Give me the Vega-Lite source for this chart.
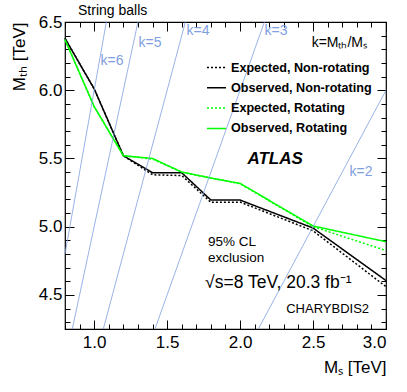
{
  "$schema": "https://vega.github.io/schema/vega-lite/v6.json",
  "width": 321,
  "height": 307,
  "autosize": "none",
  "padding": {"left": 65, "top": 22, "right": 21, "bottom": 63},
  "background": "white",
  "view": {"stroke": "black", "strokeWidth": 1.2},
  "config": {
    "font": "Liberation Sans",
    "axis": {"grid": false, "domain": false, "labelFont": "Liberation Sans", "titleFont": "Liberation Sans", "tickColor": "black", "labelColor": "black", "titleColor": "black"}
  },
  "datasets": {
    "klines": [
      {"k": "2", "ms": 2.125, "mth": 4.25}, {"k": "2", "ms": 3.0, "mth": 6.0},
      {"k": "3", "ms": 1.4167, "mth": 4.25}, {"k": "3", "ms": 2.1667, "mth": 6.5},
      {"k": "4", "ms": 1.0625, "mth": 4.25}, {"k": "4", "ms": 1.625, "mth": 6.5},
      {"k": "5", "ms": 0.85, "mth": 4.25}, {"k": "5", "ms": 1.3, "mth": 6.5},
      {"k": "6", "ms": 0.8, "mth": 4.8}, {"k": "6", "ms": 1.0833, "mth": 6.5}
    ],
    "klabels": [
      {"label": "k=6", "ms": 1.122, "mth": 6.214},
      {"label": "k=5", "ms": 1.383, "mth": 6.346},
      {"label": "k=4", "ms": 1.712, "mth": 6.434},
      {"label": "k=3", "ms": 2.246, "mth": 6.434},
      {"label": "k=2", "ms": 2.829, "mth": 5.40}
    ],
    "curves": [
      {"series": "Expected, Non-rotating", "ms": 0.8, "mth": 6.38},
      {"series": "Expected, Non-rotating", "ms": 1.0, "mth": 6.01},
      {"series": "Expected, Non-rotating", "ms": 1.2, "mth": 5.52},
      {"series": "Expected, Non-rotating", "ms": 1.4, "mth": 5.38},
      {"series": "Expected, Non-rotating", "ms": 1.6, "mth": 5.375},
      {"series": "Expected, Non-rotating", "ms": 1.8, "mth": 5.178},
      {"series": "Expected, Non-rotating", "ms": 2.0, "mth": 5.18},
      {"series": "Expected, Non-rotating", "ms": 2.5, "mth": 4.97},
      {"series": "Expected, Non-rotating", "ms": 3.0, "mth": 4.56},
      {"series": "Observed, Non-rotating", "ms": 0.8, "mth": 6.38},
      {"series": "Observed, Non-rotating", "ms": 1.0, "mth": 6.01},
      {"series": "Observed, Non-rotating", "ms": 1.2, "mth": 5.52},
      {"series": "Observed, Non-rotating", "ms": 1.4, "mth": 5.395},
      {"series": "Observed, Non-rotating", "ms": 1.6, "mth": 5.395},
      {"series": "Observed, Non-rotating", "ms": 1.8, "mth": 5.195},
      {"series": "Observed, Non-rotating", "ms": 2.0, "mth": 5.195},
      {"series": "Observed, Non-rotating", "ms": 2.5, "mth": 4.99},
      {"series": "Observed, Non-rotating", "ms": 3.0, "mth": 4.605},
      {"series": "Expected, Rotating", "ms": 0.8, "mth": 6.37},
      {"series": "Expected, Rotating", "ms": 1.0, "mth": 5.88},
      {"series": "Expected, Rotating", "ms": 1.2, "mth": 5.52},
      {"series": "Expected, Rotating", "ms": 1.4, "mth": 5.495},
      {"series": "Expected, Rotating", "ms": 1.6, "mth": 5.40},
      {"series": "Expected, Rotating", "ms": 1.8, "mth": 5.355},
      {"series": "Expected, Rotating", "ms": 2.0, "mth": 5.315},
      {"series": "Expected, Rotating", "ms": 2.5, "mth": 5.0},
      {"series": "Expected, Rotating", "ms": 3.0, "mth": 4.825},
      {"series": "Observed, Rotating", "ms": 0.8, "mth": 6.37},
      {"series": "Observed, Rotating", "ms": 1.0, "mth": 5.88},
      {"series": "Observed, Rotating", "ms": 1.2, "mth": 5.52},
      {"series": "Observed, Rotating", "ms": 1.4, "mth": 5.5},
      {"series": "Observed, Rotating", "ms": 1.6, "mth": 5.40},
      {"series": "Observed, Rotating", "ms": 1.8, "mth": 5.357},
      {"series": "Observed, Rotating", "ms": 2.0, "mth": 5.317},
      {"series": "Observed, Rotating", "ms": 2.5, "mth": 5.005},
      {"series": "Observed, Rotating", "ms": 3.0, "mth": 4.89}
    ],
    "atlas": [{"text": "ATLAS", "ms": 2.24, "mth": 5.496}],
    "cl": [{"text": "95% CL\nexclusion", "ms": 1.78, "mth": 4.887}],
    "lumi": [{"text": "√s=8 TeV, 20.3 fb⁻¹", "ms": 1.76, "mth": 4.587}],
    "gen": [{"text": "CHARYBDIS2", "ms": 2.6, "mth": 4.4}],
    "kdef": [{"text": "k=Mₜₕ/Mₛ", "ms": 2.87, "mth": 6.346}],
    "head": [{"text": "String balls", "ms": 0.889, "mth": 6.553}]
  },
  "resolve": {"axis": {"x": "independent", "y": "independent"}},
  "layer": [
    {
      "data": {"name": "curves"},
      "mark": {"type": "line", "strokeWidth": 1.5},
      "encoding": {
        "x": {"field": "ms", "type": "quantitative", "scale": {"domain": [0.8, 3.0], "nice": false, "zero": false},
          "axis": {"orient": "bottom", "ticks": false, "values": [1.0, 1.5, 2.0, 2.5, 3.0], "format": ".1f", "labelFontSize": 17, "labelPadding": 5, "title": "Mₛ [TeV]", "titleFontSize": 17, "titleFontWeight": "normal", "titleAnchor": "end", "titlePadding": 9}},
        "y": {"field": "mth", "type": "quantitative", "scale": {"domain": [4.25, 6.5], "nice": false, "zero": false},
          "axis": {"orient": "left", "ticks": false, "values": [4.5, 5.0, 5.5, 6.0, 6.5], "format": ".1f", "labelFontSize": 17, "labelPadding": 3, "title": "Mₜₕ [TeV]", "titleFontSize": 17, "titleFontWeight": "normal", "titleAnchor": "end", "titlePadding": 10}},
        "color": {"field": "series", "type": "nominal",
          "scale": {"domain": ["Expected, Non-rotating", "Observed, Non-rotating", "Expected, Rotating", "Observed, Rotating"], "range": ["black", "black", "#00ff00", "#00ff00"]},
          "legend": {"title": null, "orient": "none", "legendX": 141, "legendY": 35, "padding": 0, "symbolType": "stroke", "symbolSize": 361, "symbolStrokeWidth": 1.5, "labelFont": "Liberation Sans", "labelFontSize": 12.6, "labelFontWeight": "bold", "labelColor": "black", "labelOffset": 4, "labelLimit": 0, "rowPadding": 2.3}},
        "strokeDash": {"field": "series", "type": "nominal",
          "scale": {"domain": ["Expected, Non-rotating", "Observed, Non-rotating", "Expected, Rotating", "Observed, Rotating"], "range": [[2, 2], [1, 0], [2, 2], [1, 0]]},
          "legend": {"title": null, "orient": "none", "legendX": 141, "legendY": 35, "padding": 0, "symbolType": "stroke", "symbolSize": 361, "symbolStrokeWidth": 1.5, "labelFont": "Liberation Sans", "labelFontSize": 12.6, "labelFontWeight": "bold", "labelColor": "black", "labelOffset": 4, "labelLimit": 0, "rowPadding": 2.3}}
      }
    },
    {
      "data": {"name": "klines"},
      "mark": {"type": "line", "color": "#7f9fdf", "strokeWidth": 0.8},
      "encoding": {
        "x": {"field": "ms", "type": "quantitative", "scale": {"domain": [0.8, 3.0], "nice": false, "zero": false}, "axis": {"orient": "bottom", "labels": false, "title": null, "values": [1.0, 1.5, 2.0, 2.5, 3.0], "tickSize": -9, "tickWidth": 1}},
        "y": {"field": "mth", "type": "quantitative", "scale": {"domain": [4.25, 6.5], "nice": false, "zero": false}, "axis": {"orient": "left", "labels": false, "title": null, "values": [4.5, 5.0, 5.5, 6.0, 6.5], "tickSize": -9, "tickWidth": 1}},
        "detail": {"field": "k", "type": "nominal"}
      }
    },
    {
      "data": {"name": "klabels"},
      "mark": {"type": "text", "color": "#7f9fdf", "fontSize": 14, "font": "Liberation Sans"},
      "encoding": {
        "x": {"field": "ms", "type": "quantitative", "scale": {"domain": [0.8, 3.0], "nice": false, "zero": false}, "axis": {"orient": "bottom", "labels": false, "title": null, "values": [0.8, 0.9, 1.0, 1.1, 1.2, 1.3, 1.4, 1.5, 1.6, 1.7, 1.8, 1.9, 2.0, 2.1, 2.2, 2.3, 2.4, 2.5, 2.6, 2.7, 2.8, 2.9, 3.0], "tickSize": -5, "tickWidth": 1}},
        "y": {"field": "mth", "type": "quantitative", "scale": {"domain": [4.25, 6.5], "nice": false, "zero": false}, "axis": {"orient": "left", "labels": false, "title": null, "values": [4.3, 4.4, 4.5, 4.6, 4.7, 4.8, 4.9, 5.0, 5.1, 5.2, 5.3, 5.4, 5.5, 5.6, 5.7, 5.8, 5.9, 6.0, 6.1, 6.2, 6.3, 6.4, 6.5], "tickSize": -5, "tickWidth": 1}},
        "text": {"field": "label"}
      }
    },
    {
      "data": {"name": "atlas"},
      "mark": {"type": "text", "fontSize": 17, "fontWeight": "bold", "fontStyle": "italic", "font": "Liberation Sans", "color": "black"},
      "encoding": {
        "x": {"field": "ms", "type": "quantitative", "scale": {"domain": [0.8, 3.0], "nice": false, "zero": false}, "axis": {"orient": "top", "labels": false, "title": null, "values": [1.0, 1.5, 2.0, 2.5, 3.0], "tickSize": -9, "tickWidth": 1}},
        "y": {"field": "mth", "type": "quantitative", "scale": {"domain": [4.25, 6.5], "nice": false, "zero": false}, "axis": {"orient": "right", "labels": false, "title": null, "values": [4.5, 5.0, 5.5, 6.0, 6.5], "tickSize": -9, "tickWidth": 1}},
        "text": {"field": "text"}
      }
    },
    {
      "data": {"name": "cl"},
      "mark": {"type": "text", "fontSize": 13.5, "align": "left", "font": "Liberation Sans", "color": "black", "lineBreak": "\n", "lineHeight": 15.5},
      "encoding": {
        "x": {"field": "ms", "type": "quantitative", "scale": {"domain": [0.8, 3.0], "nice": false, "zero": false}, "axis": {"orient": "top", "labels": false, "title": null, "values": [0.8, 0.9, 1.0, 1.1, 1.2, 1.3, 1.4, 1.5, 1.6, 1.7, 1.8, 1.9, 2.0, 2.1, 2.2, 2.3, 2.4, 2.5, 2.6, 2.7, 2.8, 2.9, 3.0], "tickSize": -5, "tickWidth": 1}},
        "y": {"field": "mth", "type": "quantitative", "scale": {"domain": [4.25, 6.5], "nice": false, "zero": false}, "axis": {"orient": "right", "labels": false, "title": null, "values": [4.3, 4.4, 4.5, 4.6, 4.7, 4.8, 4.9, 5.0, 5.1, 5.2, 5.3, 5.4, 5.5, 5.6, 5.7, 5.8, 5.9, 6.0, 6.1, 6.2, 6.3, 6.4, 6.5], "tickSize": -5, "tickWidth": 1}},
        "text": {"field": "text"}
      }
    },
    {
      "data": {"name": "lumi"},
      "mark": {"type": "text", "fontSize": 17.5, "align": "left", "font": "Liberation Sans", "color": "black"},
      "encoding": {
        "x": {"field": "ms", "type": "quantitative", "axis": null},
        "y": {"field": "mth", "type": "quantitative", "axis": null},
        "text": {"field": "text"}
      }
    },
    {
      "data": {"name": "gen"},
      "mark": {"type": "text", "fontSize": 13, "font": "Liberation Sans", "color": "black"},
      "encoding": {
        "x": {"field": "ms", "type": "quantitative", "axis": null},
        "y": {"field": "mth", "type": "quantitative", "axis": null},
        "text": {"field": "text"}
      }
    },
    {
      "data": {"name": "kdef"},
      "mark": {"type": "text", "fontSize": 14, "align": "right", "font": "Liberation Sans", "color": "black"},
      "encoding": {
        "x": {"field": "ms", "type": "quantitative", "axis": null},
        "y": {"field": "mth", "type": "quantitative", "axis": null},
        "text": {"field": "text"}
      }
    },
    {
      "data": {"name": "head"},
      "mark": {"type": "text", "fontSize": 14, "align": "left", "baseline": "alphabetic", "font": "Liberation Sans", "color": "black"},
      "encoding": {
        "x": {"field": "ms", "type": "quantitative", "axis": null},
        "y": {"field": "mth", "type": "quantitative", "axis": null},
        "text": {"field": "text"}
      }
    }
  ]
}
